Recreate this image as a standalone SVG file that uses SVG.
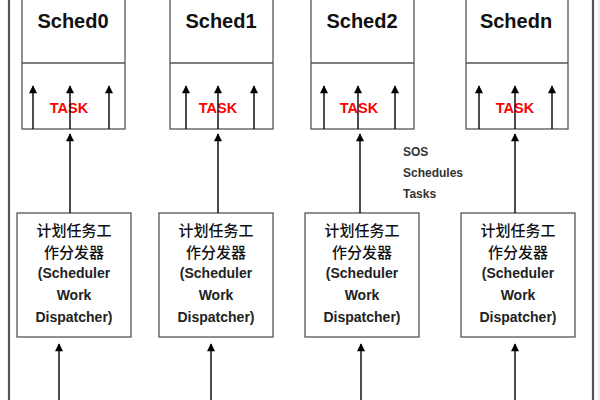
<svg xmlns="http://www.w3.org/2000/svg" width="600" height="400" viewBox="0 0 600 400">
<defs>
<marker id="ah" viewBox="0 0 10 10" refX="9" refY="5" markerWidth="9" markerHeight="8" markerUnits="userSpaceOnUse" orient="auto">
<path d="M0,0 L10,5 L0,10 Z" fill="#000"/>
</marker>
<style>
.box{fill:#fff;stroke:#555;stroke-width:1.3}
.div{stroke:#555;stroke-width:1.3}
.title{font-family:"Liberation Sans",Arial,sans-serif;font-weight:bold;font-size:20px;fill:#111;text-anchor:middle}
.task{font-family:"Liberation Sans",Arial,sans-serif;font-weight:bold;font-size:14.5px;fill:#ff0000;text-anchor:middle}
.cjk{font-family:"Noto Sans CJK SC","Liberation Sans",sans-serif;font-size:15px;font-weight:500;fill:#111;text-anchor:middle}
.lat{font-family:"Liberation Sans",Arial,sans-serif;font-weight:bold;font-size:14px;fill:#222;text-anchor:middle}
.note{font-family:"Liberation Sans",Arial,sans-serif;font-weight:bold;font-size:12px;fill:#333}
.arr{stroke:#111;stroke-width:1.5;fill:none;marker-end:url(#ah)}
.frame{stroke:#555;stroke-width:2.2}
</style>
</defs>
<line class="frame" x1="9" y1="0" x2="9" y2="400"/>
<line class="frame" x1="593" y1="0" x2="593" y2="400"/>
<line x1="599" y1="0" x2="599" y2="400" stroke="#ddd" stroke-width="1"/>

<g id="sched0">
<rect class="box" x="22" y="-5" width="103" height="134"/>
<line class="div" x1="22" y1="63" x2="125" y2="63"/>
<text class="title" x="73" y="28">Sched0</text>
<text class="task" x="69" y="113">TASK</text>
</g>
<g id="sched1">
<rect class="box" x="170" y="-5" width="103" height="134"/>
<line class="div" x1="170" y1="63" x2="273" y2="63"/>
<text class="title" x="221" y="28">Sched1</text>
<text class="task" x="218" y="113">TASK</text>
</g>
<g id="sched2">
<rect class="box" x="311" y="-5" width="103" height="134"/>
<line class="div" x1="311" y1="63" x2="414" y2="63"/>
<text class="title" x="362" y="28">Sched2</text>
<text class="task" x="359" y="113">TASK</text>
</g>
<g id="schedn">
<rect class="box" x="466" y="-5" width="102" height="134"/>
<line class="div" x1="466" y1="63" x2="568" y2="63"/>
<text class="title" x="516" y="28">Schedn</text>
<text class="task" x="515" y="113">TASK</text>
</g>

<g id="disp0">
<rect class="box" x="17" y="213" width="114" height="124"/>
<text class="cjk" x="74" y="236">计划任务工</text>
<text class="cjk" x="74" y="258">作分发器</text>
<text class="lat" x="74" y="278">(Scheduler</text>
<text class="lat" x="74" y="300">Work</text>
<text class="lat" x="74" y="322">Dispatcher)</text>
</g>
<g id="disp1">
<rect class="box" x="159" y="213" width="114" height="124"/>
<text class="cjk" x="216" y="236">计划任务工</text>
<text class="cjk" x="216" y="258">作分发器</text>
<text class="lat" x="216" y="278">(Scheduler</text>
<text class="lat" x="216" y="300">Work</text>
<text class="lat" x="216" y="322">Dispatcher)</text>
</g>
<g id="disp2">
<rect class="box" x="305" y="213" width="114" height="124"/>
<text class="cjk" x="362" y="236">计划任务工</text>
<text class="cjk" x="362" y="258">作分发器</text>
<text class="lat" x="362" y="278">(Scheduler</text>
<text class="lat" x="362" y="300">Work</text>
<text class="lat" x="362" y="322">Dispatcher)</text>
</g>
<g id="disp3">
<rect class="box" x="461" y="213" width="114" height="124"/>
<text class="cjk" x="518" y="236">计划任务工</text>
<text class="cjk" x="518" y="258">作分发器</text>
<text class="lat" x="518" y="278">(Scheduler</text>
<text class="lat" x="518" y="300">Work</text>
<text class="lat" x="518" y="322">Dispatcher)</text>
</g>

<g id="note">
<text class="note" x="403" y="156">SOS</text>
<text class="note" x="403" y="177">Schedules</text>
<text class="note" x="403" y="198">Tasks</text>
</g>

<g id="connectors">
<line class="arr" x1="33" y1="129" x2="33" y2="86"/>
<line class="arr" x1="70" y1="129" x2="70" y2="86"/>
<line class="arr" x1="109" y1="129" x2="109" y2="86"/>
<line class="arr" x1="186" y1="129" x2="186" y2="86"/>
<line class="arr" x1="218" y1="129" x2="218" y2="86"/>
<line class="arr" x1="254" y1="129" x2="254" y2="86"/>
<line class="arr" x1="324" y1="129" x2="324" y2="86"/>
<line class="arr" x1="358" y1="129" x2="358" y2="86"/>
<line class="arr" x1="395" y1="129" x2="395" y2="86"/>
<line class="arr" x1="479" y1="129" x2="479" y2="86"/>
<line class="arr" x1="515" y1="129" x2="515" y2="86"/>
<line class="arr" x1="552" y1="129" x2="552" y2="86"/>

<line class="arr" x1="70" y1="213" x2="70" y2="134"/>
<line class="arr" x1="218" y1="213" x2="218" y2="134"/>
<line class="arr" x1="360" y1="213" x2="360" y2="134"/>
<line class="arr" x1="515" y1="213" x2="515" y2="134"/>

<line class="arr" x1="59" y1="400" x2="59" y2="344"/>
<line class="arr" x1="211" y1="400" x2="211" y2="344"/>
<line class="arr" x1="361" y1="400" x2="361" y2="344"/>
<line class="arr" x1="515" y1="400" x2="515" y2="344"/>
</g>
</svg>
